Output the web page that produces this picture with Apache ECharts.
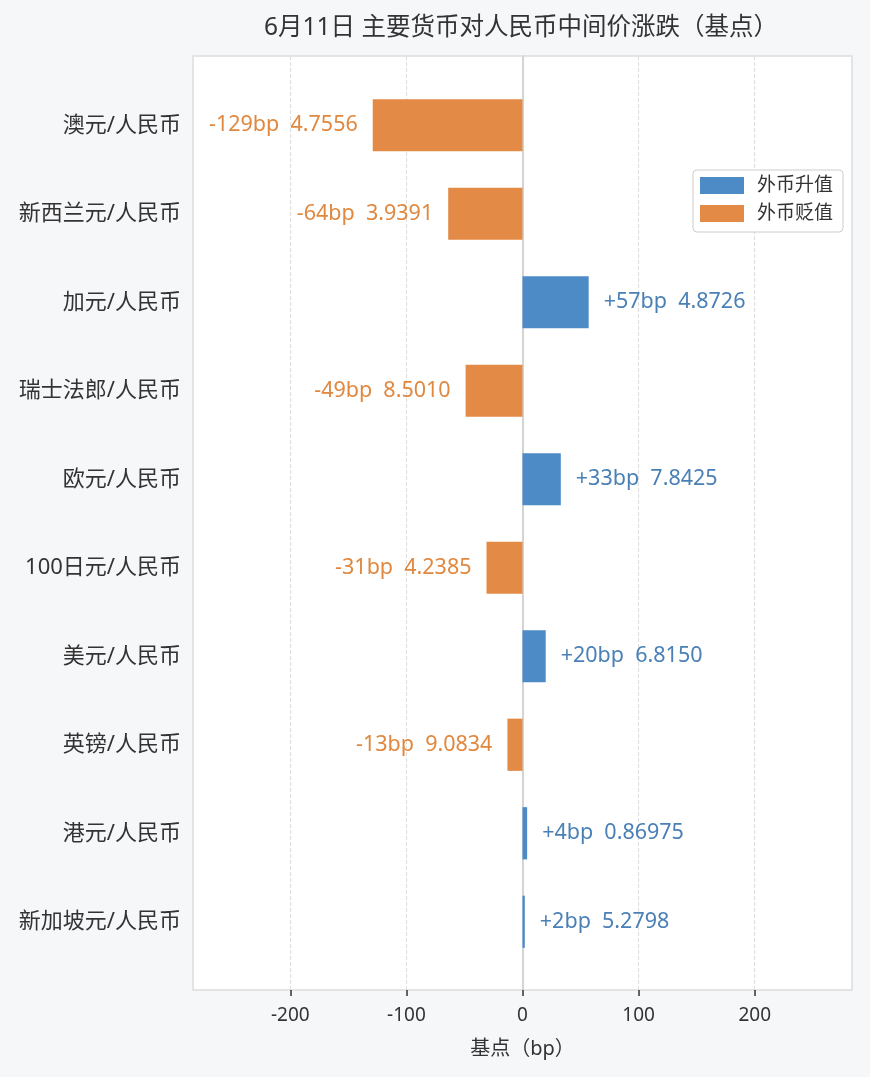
<!DOCTYPE html>
<html>
<head>
<meta charset="utf-8">
<script src="https://cdn.jsdelivr.net/npm/echarts@6/dist/echarts.min.js"></script>
<style>
html,body{margin:0;padding:0;background:#f6f7f9;}
#c{width:870px;height:1077px;}
</style>
</head>
<body>
<div id="c"></div>
<script>
const title = '6月11日 主要货币对人民币中间价涨跌（基点）';
const categories = ['澳元/人民币','新西兰元/人民币','加元/人民币','瑞士法郎/人民币','欧元/人民币','100日元/人民币','美元/人民币','英镑/人民币','港元/人民币','新加坡元/人民币'];
const changes = [-129, -64, 57, -49, 33, -31, 20, -13, 4, 2];
const rates = ['4.7556','3.9391','4.8726','8.5010','7.8425','4.2385','6.8150','9.0834','0.86975','5.2798'];
const xTicks = [-200, -100, 0, 100, 200];
const seriesNames = ['外币升值', '外币贬值'];
const axisName = '基点（bp）';

const BLUE = '#4d8bc6', ORANGE = '#e38a46';
const BLUE_T = '#4a80b6', ORANGE_T = '#e0883f';
const FONT = '"Noto Sans", "Noto Sans CJK SC", sans-serif';

const maxAbs = Math.max(...changes.map(Math.abs));
const XLIM = maxAbs * 2.2;

function labelText(i) {
  const v = changes[i];
  return (v > 0 ? '+' : '') + v + 'bp  ' + rates[i];
}

const upData = changes.map(v => v > 0 ? v : '-');
const downData = changes.map(v => v < 0 ? v : '-');

const chart = echarts.init(document.getElementById('c'), null, {renderer: 'canvas'});
chart.setOption({
  backgroundColor: '#f6f7f9',
  textStyle: {fontFamily: FONT},
  animation: false,
  title: {
    text: title,
    left: 516,
    top: 11,
    textAlign: 'center',
    textStyle: {fontSize: 24.5, fontWeight: 'normal', color: '#333', fontFamily: FONT}
  },
  legend: {
    data: seriesNames,
    orient: 'vertical',
    right: 27,
    top: 170,
    icon: 'rect',
    itemWidth: 44,
    itemHeight: 17,
    itemGap: 9,
    padding: [6, 10, 9, 7],
    backgroundColor: '#fff',
    borderColor: '#cccccc',
    borderWidth: 1,
    borderRadius: 4,
    textStyle: {fontSize: 19, color: '#333', fontFamily: FONT, padding: [0, 0, 0, 8]}
  },
  grid: [
    {left: 193, right: 18, top: 56, bottom: 87, show: true, backgroundColor: '#fff', borderColor: '#dddddd', borderWidth: 1.5, containLabel: false},
    {left: 193, right: 18, top: 81, bottom: 111, containLabel: false}
  ],
  xAxis: [
    {
      type: 'value', gridIndex: 0, min: -XLIM, max: XLIM,
      name: axisName, nameLocation: 'middle', nameGap: 49,
      nameTextStyle: {fontSize: 20, color: '#333', fontFamily: FONT},
      axisLine: {show: false},
      axisTick: {show: true, customValues: xTicks, length: 6, lineStyle: {color: '#333', width: 1.5}},
      axisLabel: {customValues: xTicks, fontSize: 19, color: '#333', margin: 16, fontFamily: FONT},
      splitLine: {show: true, lineStyle: {color: '#dddddd', type: 'dashed', width: 1}}
    },
    {
      type: 'value', gridIndex: 1, min: -XLIM, max: XLIM, show: false
    }
  ],
  yAxis: [
    {
      type: 'value', gridIndex: 0, min: 0, max: 1,
      axisLine: {show: true, onZero: true, lineStyle: {color: '#d4d4d4', width: 2}},
      axisTick: {show: false}, axisLabel: {show: false}, splitLine: {show: false}
    },
    {
      type: 'category', gridIndex: 1, data: categories, inverse: true,
      axisLine: {show: false, onZero: false},
      axisTick: {show: false},
      axisLabel: {fontSize: 22, color: '#333', margin: 12, fontFamily: FONT},
      splitLine: {show: false}
    }
  ],
  series: [
    {
      name: seriesNames[0], type: 'bar', xAxisIndex: 1, yAxisIndex: 1,
      data: upData, barWidth: '59%', barGap: '-100%',
      itemStyle: {color: BLUE},
      label: {show: true, position: 'right', distance: 15, color: BLUE_T, fontSize: 21.5, fontFamily: FONT,
        formatter: p => labelText(p.dataIndex)}
    },
    {
      name: seriesNames[1], type: 'bar', xAxisIndex: 1, yAxisIndex: 1,
      data: downData, barWidth: '59%', barGap: '-100%',
      itemStyle: {color: ORANGE},
      label: {show: true, position: 'left', distance: 15, color: ORANGE_T, fontSize: 21.5, fontFamily: FONT,
        formatter: p => labelText(p.dataIndex)}
    }
  ]
});
</script>
</body>
</html>
